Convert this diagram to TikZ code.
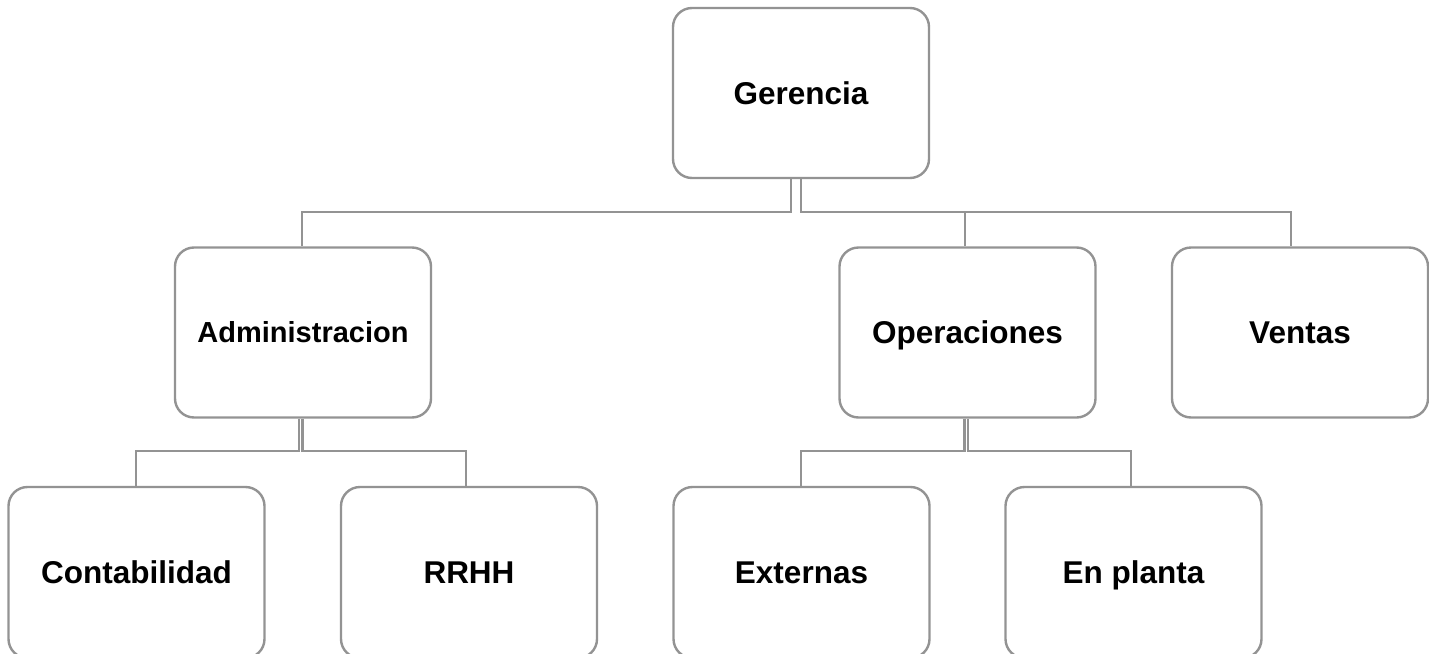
\documentclass[tikz,border=0pt]{standalone}
\usepackage{fontspec}
\setmainfont{Liberation Sans}
\begin{document}
\begin{tikzpicture}[x=1pt,y=-1pt,
  orgbox/.style={draw=linegray, line width=2.4pt, rounded corners=19pt,
    minimum width=256pt, minimum height=170pt, inner sep=0pt,
    text height=22.6pt, text depth=0pt,
    font=\fontsize{31.5}{36}\selectfont\bfseries, text=black},
  smalltext/.style={font=\fontsize{29}{34}\selectfont\bfseries, text height=20.8pt},
  link/.style={draw=linegray, line width=2.1pt}]
\definecolor{linegray}{HTML}{939393}
\useasboundingbox (0,0) rectangle (1429,653);
\begin{scope}
\clip (0,0) rectangle (1429,653);
% top level
\node[orgbox] (ger) at (801,93) {Gerencia};
% second level
\node[orgbox, smalltext] (adm) at (303,332.5) {Administracion};
\node[orgbox] (ope) at (967.5,332.5) {Operaciones};
\node[orgbox] (ven) at (1300,332.5) {Ventas};
% third level
\node[orgbox, minimum height=171pt] (con) at (136.5,572.5) {Contabilidad};
\node[orgbox, minimum height=171pt] (rrh) at (469,572.5) {RRHH};
\node[orgbox, minimum height=171pt] (ext) at (801.5,572.5) {Externas};
\node[orgbox, minimum height=171pt] (pla) at (1133.5,572.5) {En planta};
% elbow connectors
\draw[link] ([xshift=-10pt]ger.south) |- (302,212) -- (adm.north -| 302,0);
\draw[link] (ger.south) |- (965,212) -- (ope.north -| 965,0);
\draw[link] (ger.south) |- (1291,212) -- (ven.north -| 1291,0);
\draw[link] ([xshift=-4pt]adm.south) |- (136,451) -- (con.north -| 136,0);
\draw[link] ([xshift=-0.5pt]adm.south) |- (466,451) -- (rrh.north -| 466,0);
\draw[link] ([xshift=-3pt]ope.south) |- (801,451) -- (ext.north -| 801,0);
\draw[link] ([xshift=0.5pt]ope.south) |- (1131,451) -- (pla.north -| 1131,0);
\end{scope}
\end{tikzpicture}
\end{document}
